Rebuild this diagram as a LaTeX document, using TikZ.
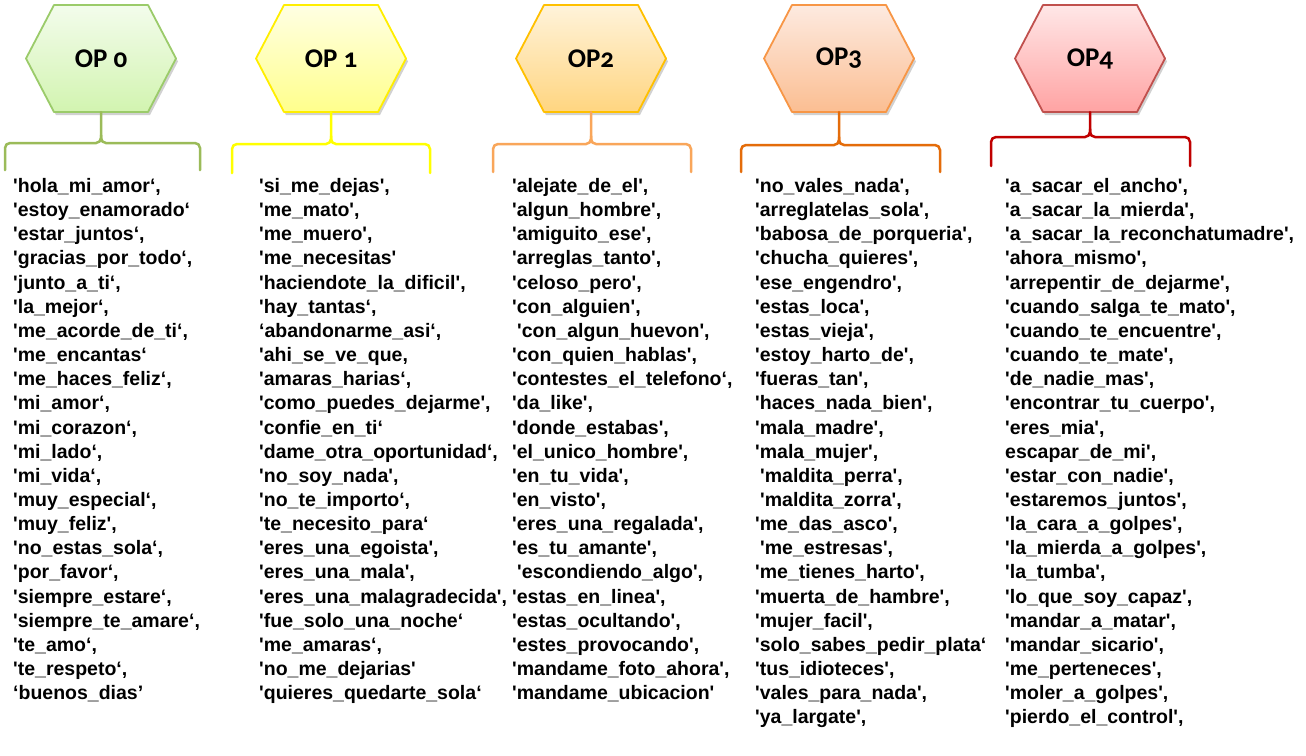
\documentclass[tikz,border=0pt]{standalone}
\usepackage{fontspec}
\setmainfont{Liberation Sans}[Ligatures=TeXOff]
\newfontfamily\hexfont{Carlito}[Numbers=OldStyle]
\usetikzlibrary{calc}

% hexagon and brace colours, one set per level
\definecolor{g0line}{HTML}{9BCB6A}
\definecolor{g0top}{HTML}{F3FCEC}
\definecolor{g0bot}{HTML}{D2F4B0}
\definecolor{g0brace}{HTML}{9BBB59}
\definecolor{y1line}{HTML}{FFEE00}
\definecolor{y1top}{HTML}{FFFFE3}
\definecolor{y1bot}{HTML}{FFFF8C}
\definecolor{y1brace}{HTML}{FFFF00}
\definecolor{o2line}{HTML}{FFC000}
\definecolor{o2top}{HTML}{FFF3DA}
\definecolor{o2bot}{HTML}{FFD580}
\definecolor{o2brace}{HTML}{F9A65A}
\definecolor{o3line}{HTML}{F79646}
\definecolor{o3top}{HTML}{FDEAE0}
\definecolor{o3bot}{HTML}{FBBE92}
\definecolor{o3brace}{HTML}{E46C0A}
\definecolor{r4line}{HTML}{C0504D}
\definecolor{r4top}{HTML}{FFE7E7}
\definecolor{r4bot}{HTML}{FFA3A3}
\definecolor{r4brace}{HTML}{C00000}

% #1 node name, #2 centre x, #3 label, #4 colour prefix
\newcommand\ophex[4]{%
  \begin{scope}[shift={(#2,58.5)}]
    \path[fill=black, opacity=.18] (-73,3) -- (-45,-50.5) -- (49,-50.5) -- (77,3) -- (49,56.5) -- (-45,56.5) -- cycle;
    \path[draw=#4line, line width=1.8pt, line join=round, top color=#4top, bottom color=#4bot]
      (-75,0) -- (-47,-53.5) -- (47,-53.5) -- (75,0) -- (47,53.5) -- (-47,53.5) -- cycle;
    \node[hexlabel] (#1) at (0,0) {#3};
  \end{scope}}

% #1 hexagon node, #2 left x, #3 stem x, #4 right x, #5 bar y, #6 end y, #7 colour
\newcommand\opbrace[7]{%
  \draw[bracepath, #7] (#2,#6) -- (#2,#5) -- (#3,#5) -- (#1.south);
  \draw[bracepath, #7] (#4,#6) -- (#4,#5) -- (#3,#5) -- (#3,#5-8);}

% #1 name prefix, #2 left x, #3 list of entries
\newcommand\wordcol[3]{%
  \foreach \w [count=\i from 0] in {#3} {\node[word] (#1\i) at (#2,192.5+\i*24.15) {\w};}}

\begin{document}
\begin{tikzpicture}[x=1pt, y=-1pt,
  hexlabel/.style={minimum width=150pt, minimum height=107pt, inner sep=0pt,
    font=\hexfont\bfseries\fontsize{27}{30}\selectfont},
  bracepath/.style={line width=2.5pt, rounded corners=5pt, line cap=round},
  word/.style={anchor=base west, inner sep=0pt, font=\bfseries\fontsize{19.5}{24}\selectfont}]
\useasboundingbox[fill=white] (0,0) rectangle (1306,755);

\ophex{h0}{101}{OP 0}{g0}
\ophex{h1}{331}{OP 1}{y1}
\ophex{h2}{591}{OP2}{o2}
\ophex{h3}{839}{OP3}{o3}
\ophex{h4}{1090}{OP4}{r4}

\opbrace{h0}{5}{101}{200}{143}{170}{g0brace}
\opbrace{h1}{232}{331}{430}{144}{173}{y1brace}
\opbrace{h2}{493}{591}{691}{144}{172}{o2brace}
\opbrace{h3}{741}{839}{940}{145}{172}{o3brace}
\opbrace{h4}{991}{1090}{1190}{137}{166}{r4brace}

\wordcol{a}{13}{{'hola\_mi\_amor‘,},{'estoy\_enamorado‘},{'estar\_juntos‘,},{'gracias\_por\_todo‘,},
  {'junto\_a\_ti‘,},{'la\_mejor‘,},{'me\_acorde\_de\_ti‘,},{'me\_encantas‘},{'me\_haces\_feliz‘,},
  {'mi\_amor‘,},{'mi\_corazon‘,},{'mi\_lado‘,},{'mi\_vida‘,},{'muy\_especial‘,},{'muy\_feliz',},
  {'no\_estas\_sola‘,},{'por\_favor‘,},{'siempre\_estare‘,},{'siempre\_te\_amare‘,},{'te\_amo‘,},
  {'te\_respeto‘,},{‘buenos\_dias’}}

\wordcol{b}{259}{{'si\_me\_dejas',},{'me\_mato',},{'me\_muero',},{'me\_necesitas'},
  {'haciendote\_la\_dificil',},{'hay\_tantas‘,},{‘abandonarme\_asi‘,},{'ahi\_se\_ve\_que,},
  {'amaras\_harias‘,},{'como\_puedes\_dejarme',},{'confie\_en\_ti‘},{'dame\_otra\_oportunidad‘,},
  {'no\_soy\_nada',},{'no\_te\_importo‘,},{'te\_necesito\_para‘},{'eres\_una\_egoista',},
  {'eres\_una\_mala',},{'eres\_una\_malagradecida',},{'fue\_solo\_una\_noche‘},{'me\_amaras‘,},
  {'no\_me\_dejarias'},{'quieres\_quedarte\_sola‘}}

\wordcol{c}{512}{{'alejate\_de\_el',},{'algun\_hombre',},{'amiguito\_ese',},{'arreglas\_tanto',},
  {'celoso\_pero',},{'con\_alguien',},{\hspace{5pt}'con\_algun\_huevon',},{'con\_quien\_hablas',},
  {'contestes\_el\_telefono‘,},{'da\_like',},{'donde\_estabas',},{'el\_unico\_hombre',},
  {'en\_tu\_vida',},{'en\_visto',},{'eres\_una\_regalada',},{'es\_tu\_amante',},
  {\hspace{5pt}'escondiendo\_algo',},{'estas\_en\_linea',},{'estas\_ocultando',},
  {'estes\_provocando',},{'mandame\_foto\_ahora',},{'mandame\_ubicacion'}}

\wordcol{d}{755}{{'no\_vales\_nada',},{'arreglatelas\_sola',},{'babosa\_de\_porqueria',},
  {'chucha\_quieres',},{'ese\_engendro',},{'estas\_loca',},{'estas\_vieja',},{'estoy\_harto\_de',},
  {'fueras\_tan',},{'haces\_nada\_bien',},{'mala\_madre',},{'mala\_mujer',},
  {\hspace{5pt}'maldita\_perra',},{\hspace{5pt}'maldita\_zorra',},{'me\_das\_asco',},
  {\hspace{5pt}'me\_estresas',},{'me\_tienes\_harto',},{'muerta\_de\_hambre',},{'mujer\_facil',},
  {'solo\_sabes\_pedir\_plata‘},{'tus\_idioteces',},{'vales\_para\_nada',},{'ya\_largate',}}

\wordcol{e}{1005}{{'a\_sacar\_el\_ancho',},{'a\_sacar\_la\_mierda',},{'a\_sacar\_la\_reconchatumadre',},
  {'ahora\_mismo',},{'arrepentir\_de\_dejarme',},{'cuando\_salga\_te\_mato',},
  {'cuando\_te\_encuentre',},{'cuando\_te\_mate',},{'de\_nadie\_mas',},{'encontrar\_tu\_cuerpo',},
  {'eres\_mia',},{escapar\_de\_mi',},{'estar\_con\_nadie',},{'estaremos\_juntos',},
  {'la\_cara\_a\_golpes',},{'la\_mierda\_a\_golpes',},{'la\_tumba',},{'lo\_que\_soy\_capaz',},
  {'mandar\_a\_matar',},{'mandar\_sicario',},{'me\_perteneces',},{'moler\_a\_golpes',},
  {'pierdo\_el\_control',}}
\end{tikzpicture}
\end{document}
